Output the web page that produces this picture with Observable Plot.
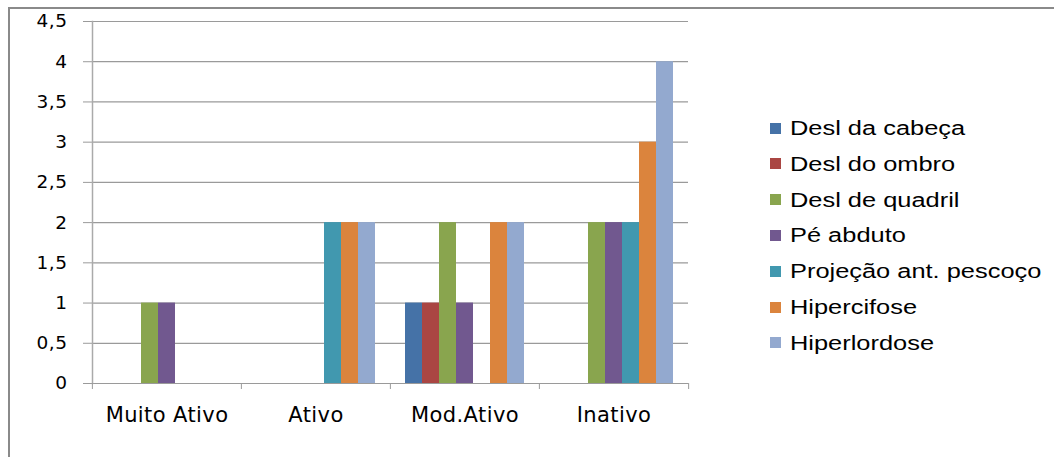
<!DOCTYPE html>
<html>
<head>
<meta charset="utf-8">
<script src="https://cdn.jsdelivr.net/npm/d3@7"></script>
<script src="https://cdn.jsdelivr.net/npm/@observablehq/plot@0.6"></script>
<style>
  html, body { margin: 0; padding: 0; background: #fff; }
  #wrap { position: relative; width: 1054px; height: 457px; overflow: hidden; background: #fff; }
  #border { position: absolute; left: 8px; top: 7px; width: 1100px; height: 500px;
            border-left: 2px solid #8a8a8a; border-top: 2px solid #8a8a8a; }
  #chart { position: absolute; left: 0; top: 0; }
  #chart svg text { letter-spacing: 0.5px; }
  #chart svg g[aria-label="fx-axis tick label"] text { letter-spacing: 0.4px; }
  #legend { position: absolute; left: 770px; top: 110px; font-family: "Liberation Sans", Arial, sans-serif;
            font-size: 20px; color: #000; }
  .item { position: absolute; left: 0; height: 20px; white-space: nowrap; }
  .sw { position: absolute; left: 0; top: 4.5px; width: 11px; height: 11px; }
  .lbl { position: absolute; left: 20px; top: -2px; line-height: 24px; display: inline-block;
         transform: scaleX(1.27); transform-origin: 0 50%; }
</style>
</head>
<body>
<div id="wrap">
  <div id="border"></div>
  <div id="chart"></div>
  <div id="legend"></div>
</div>
<script>
// ---- data ----
const categories = ["Muito Ativo", "Ativo", "Mod.Ativo", "Inativo"];
const seriesNames = ["Desl da cabeça", "Desl do ombro", "Desl de quadril", "Pé abduto",
                     "Projeção ant. pescoço", "Hipercifose", "Hiperlordose"];
const seriesColors = ["#4572A7", "#AA4643", "#89A54E", "#71588F", "#4198AF", "#DB843D", "#93A9CF"];
const deslCabeca   = [0, 0, 1, 0];
const deslOmbro    = [0, 0, 1, 0];
const deslQuadril  = [1, 0, 2, 2];
const peAbduto     = [1, 0, 1, 2];
const projPescoco  = [0, 2, 0, 2];
const hipercifose  = [0, 2, 2, 3];
const hiperlordose = [0, 2, 2, 4];
const yTicks = [0, 0.5, 1, 1.5, 2, 2.5, 3, 3.5, 4, 4.5];

const seriesValues = [deslCabeca, deslOmbro, deslQuadril, peAbduto, projPescoco, hipercifose, hiperlordose];
const rows = [];
seriesNames.forEach((s, i) => categories.forEach((c, j) => {
  rows.push({category: c, series: s, value: seriesValues[i][j]});
}));

const W = 1054, H = 457, ML = 91, MR = 366, MT = 21, MB = 74;
const step = (W - ML - MR) / categories.length;
const fmt = d => String(d).replace(".", ",");

const plot = Plot.plot({
  width: W, height: H,
  marginLeft: ML, marginRight: MR, marginTop: MT, marginBottom: MB,
  style: {fontFamily: "DejaVu Sans, Verdana, sans-serif", fontSize: "18px", color: "#000", background: "transparent"},
  fx: {domain: categories, padding: 0, label: null},
  x: {domain: seriesNames, paddingInner: 0, paddingOuter: 0.8, axis: null},
  y: {domain: [0, 4.5], label: null},
  color: {domain: seriesNames, range: seriesColors},
  marks: [
    Plot.gridY(yTicks, {stroke: "#9a9a9a", strokeOpacity: 1, strokeWidth: 1.2}),
    Plot.axisY(yTicks, {tickSize: 9, tickPadding: 16, tickFormat: fmt, stroke: "#9a9a9a",
                        fill: "#000", fontSize: 18.5, label: null}),
    Plot.frame({anchor: "left", facet: "super", stroke: "#aaaaaa", strokeWidth: 1.5}),
    Plot.axisFx({anchor: "bottom", tickSize: 0, tickPadding: 24, fill: "#000", fontSize: 21, label: null}),
    Plot.axisFx({anchor: "bottom", tickSize: 6, text: null, dx: -step / 2, stroke: "#9a9a9a", label: null}),
    Plot.axisFx({anchor: "bottom", ticks: [categories[categories.length - 1]], tickSize: 6, text: null,
                 dx: step / 2, stroke: "#9a9a9a", label: null}),
    Plot.barY(rows.filter(d => d.value > 0), {
      fx: "category", x: "series", y: "value", fill: "series"
    })
  ]
});
document.getElementById("chart").appendChild(plot);

// ---- legend ----
const legend = document.getElementById("legend");
seriesNames.forEach((s, i) => {
  const item = document.createElement("div");
  item.className = "item";
  item.style.top = (8 + i * 35.8) + "px";
  const sw = document.createElement("span");
  sw.className = "sw";
  sw.style.background = seriesColors[i];
  const lbl = document.createElement("span");
  lbl.className = "lbl";
  lbl.textContent = s;
  item.appendChild(sw);
  item.appendChild(lbl);
  legend.appendChild(item);
});
</script>
</body>
</html>
